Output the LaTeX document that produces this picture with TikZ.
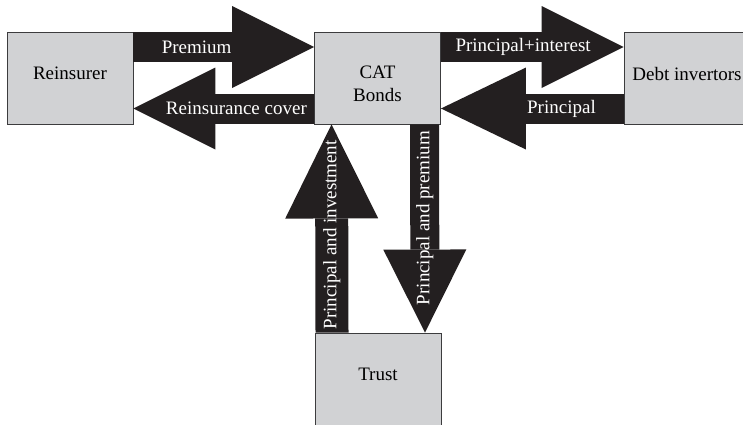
\documentclass[tikz,border=0pt]{standalone}
\usepackage{fontspec}
\setmainfont{Liberation Serif}
\usetikzlibrary{arrows.meta}
\definecolor{boxgray}{RGB}{209,210,212}
\definecolor{boxline}{RGB}{60,60,62}
\definecolor{flowblack}{RGB}{35,31,32}
\tikzset{
  box/.style={draw=boxline, line width=0.9pt, fill=boxgray, rectangle, minimum width=126pt, minimum height=92pt, inner sep=0pt},
  boxtext/.style={inner sep=0pt, align=center, font=\fontsize{19}{23}\selectfont},
  flow/.style={draw=flowblack, line width=30pt},
  lbl/.style={text=white, inner sep=0pt, font=\fontsize{19}{23}\selectfont}
}
\begin{document}
\begin{tikzpicture}[x=1pt,y=-1pt]
\useasboundingbox (0,0) rectangle (743,424);
\node[box] (rein) at (70,78) {};
\node[box] (cat) at (377.5,78) {};
\node[box] (debt) at (687,78) {};
\node[box] (trust) at (378,379) {};
\node[boxtext] (reintext) at ([yshift=5pt]rein) {Reinsurer};
\node[boxtext] (cattext) at ([yshift=-6pt]cat) {CAT\\Bonds};
\node[boxtext] (debttext) at ([yshift=4pt]debt) {Debt invertors};
\node[boxtext] (trusttext) at ([yshift=5pt]trust) {Trust};
\draw[flow, -{Triangle[length=82pt,width=82pt,line width=0pt]}] ([yshift=31pt]rein.east) -- ([yshift=31pt]cat.west) node[lbl, pos=0.35]{Premium};
\draw[flow, -{Triangle[length=82pt,width=82pt,line width=0pt]}] ([yshift=-30.5pt]cat.west) -- ([yshift=-30.5pt]rein.east) node[lbl, pos=0.43]{Reinsurance cover};
\draw[flow, -{Triangle[length=82pt,width=82pt,line width=0pt]}] ([yshift=31pt]cat.east) -- ([yshift=31pt]debt.west) node[lbl, pos=0.45]{Principal+interest};
\draw[flow, -{Triangle[length=85pt,width=82pt,line width=0pt]}] ([yshift=-30.5pt]debt.west) -- ([yshift=-30.5pt]cat.east) node[lbl, pos=0.34]{Principal};
\draw[flow, line width=33pt, -{Triangle[length=94pt,width=93pt,line width=0pt]}] ([xshift=-46pt]trust.north) -- ([xshift=-46pt]cat.south) node[lbl, pos=0.47, rotate=90]{Principal and investment};
\draw[flow, line width=29pt, -{Triangle[length=83pt,width=83pt,line width=0pt]}] ([xshift=47pt]cat.south) -- ([xshift=47pt]trust.north) node[lbl, pos=0.45, rotate=90]{Principal and premium};
\end{tikzpicture}
\end{document}
